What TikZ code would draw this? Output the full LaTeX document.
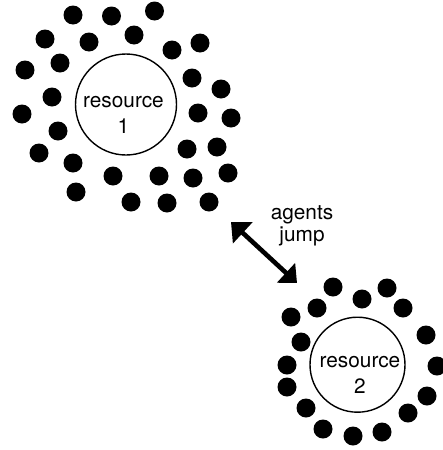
\documentclass[tikz,border=0pt]{standalone}
\usepackage{fontspec}
\setmainfont{TeX Gyre Heros}
\usetikzlibrary{arrows.meta}
\tikzset{
  resource/.style={draw, circle, line width=0.7pt, inner sep=0pt},
  agent/.style={fill=black},
  caption/.style={align=center, font=\fontsize{10.4}{13}\selectfont, inner sep=0pt, anchor=base},
}

\begin{document}
\begin{tikzpicture}[x=0.5pt, y=-0.5pt]
  %%%%% START %%%%%
  \useasboundingbox (0,0) rectangle (443,450);

  % resource 1 and its agents
  \node[resource, minimum size=50.5pt] (res1) at (126,104.5) {};
  \node[caption] (res1text) at (123.5,133) {resource\\1};
  \foreach \x/\y in {73/15, 111.5/16, 154.5/11,
                     45/39, 89/42, 134/35, 172/50, 200/43,
                     25/70, 60/63, 52/97, 22/114, 58/131, 39/153, 73/163, 76/192,
                     192/78, 221/89, 198/113, 231/118, 187/149, 217/147,
                     113/176, 159/176, 193/178, 228/173, 131/202, 167/203, 209/202}
    \fill[agent] (\x,\y) circle (4.75pt);

  % resource 2 and its agents
  \node[resource, minimum size=47.5pt] (res2) at (357.5,364.7) {};
  \node[caption] (res2text) at (360,393) {resource\\2};
  \foreach \x/\y in {333/287, 387/288, 362/299, 317/308, 403/308, 291/317,
                     426/335, 301/342, 287/365, 437/366, 287/387, 427/396,
                     306/408, 408/413, 323/429, 353/436, 382/432}
    \fill[agent] (\x,\y) circle (4.75pt);

  % the jump
  \coordinate (jumpA) at (231,222);
  \coordinate (jumpB) at (297,283);
  \draw[line width=2.3pt, {Triangle[length=8pt,width=14pt]}-{Triangle[length=7.5pt,width=13pt]}] (jumpA) -- (jumpB);
  \node[caption, font=\fontsize{10.4}{11.35}\selectfont] (jumptext) at (302,241.7) {agents\\jump};

  %%%%% END %%%%%
\end{tikzpicture}
\end{document}
